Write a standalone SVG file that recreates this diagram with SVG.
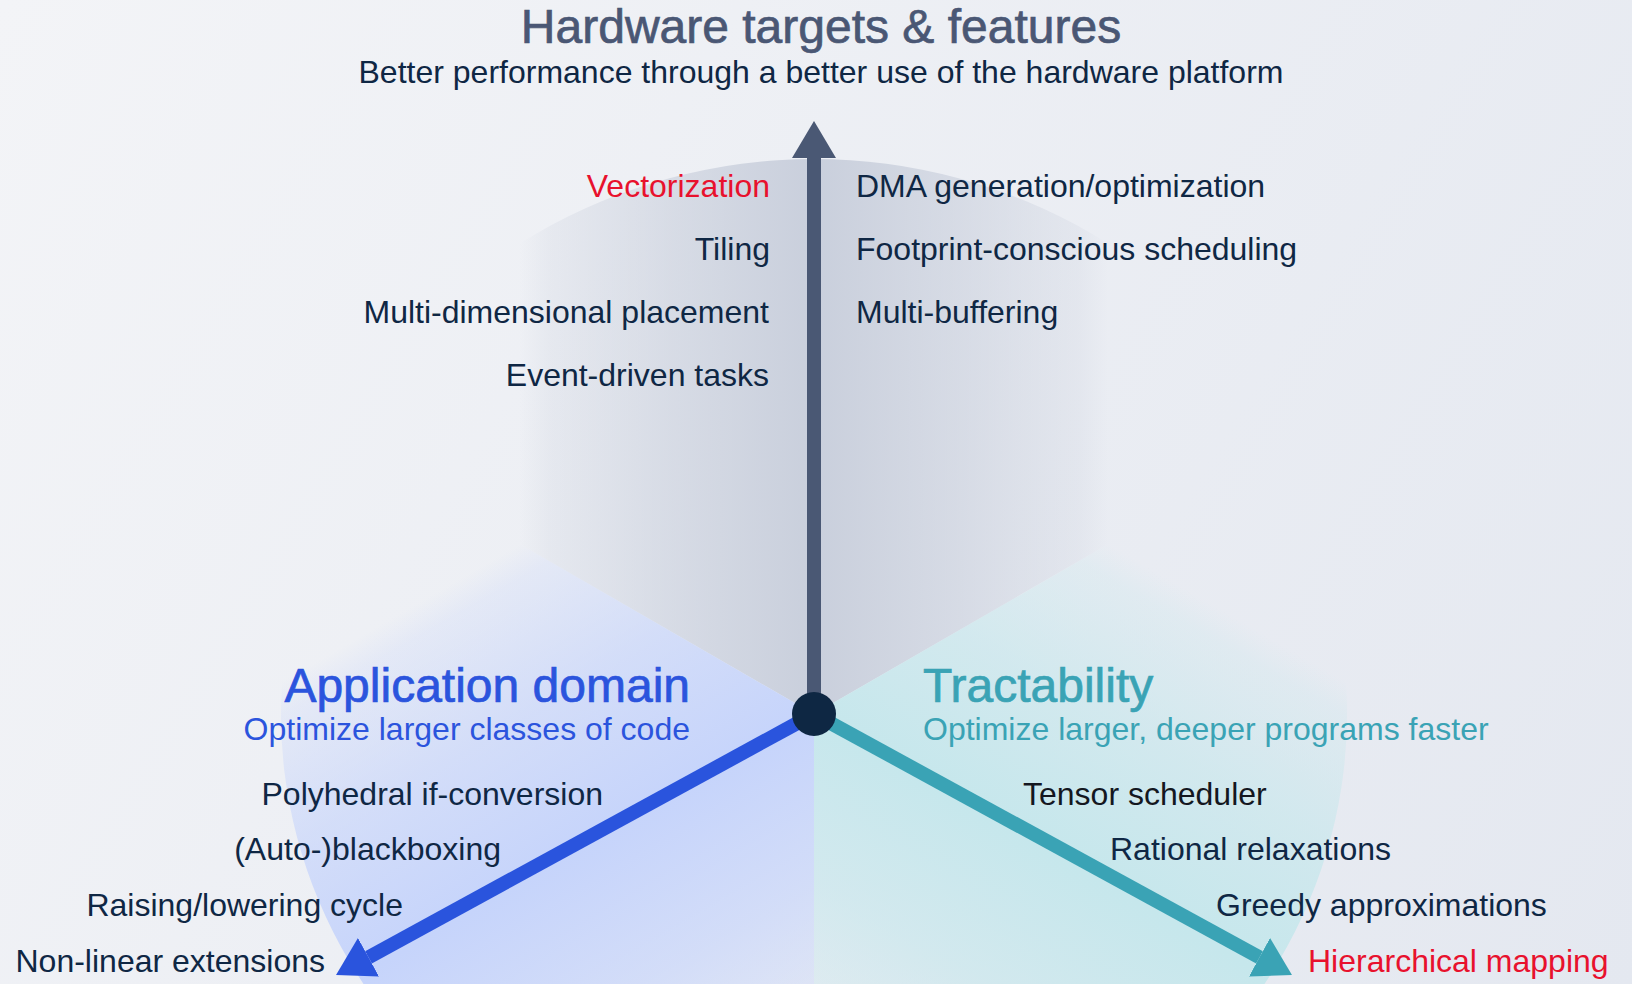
<svg xmlns="http://www.w3.org/2000/svg" width="1632" height="984" viewBox="0 0 1632 984">
  <defs>
    <linearGradient id="bg" x1="0" y1="0" x2="1632" y2="984" gradientUnits="userSpaceOnUse">
      <stop offset="0" stop-color="#f3f4f7"/>
      <stop offset="1" stop-color="#e4e8f0"/>
    </linearGradient>
    <linearGradient id="gTop" x1="520" y1="0" x2="1108" y2="0" gradientUnits="userSpaceOnUse">
      <stop offset="0" stop-color="#c9cfdc" stop-opacity="0"/>
      <stop offset="0.05" stop-color="#c9cfdc" stop-opacity="0.22"/>
      <stop offset="0.25" stop-color="#c9cfdc" stop-opacity="0.6"/>
      <stop offset="0.5" stop-color="#c9cfdc" stop-opacity="1"/>
      <stop offset="0.75" stop-color="#c9cfdc" stop-opacity="0.6"/>
      <stop offset="0.95" stop-color="#c9cfdc" stop-opacity="0.22"/>
      <stop offset="1" stop-color="#c9cfdc" stop-opacity="0"/>
    </linearGradient>
    <linearGradient id="gApp" x1="667" y1="459.4" x2="961" y2="968.6" gradientUnits="userSpaceOnUse">
      <stop offset="0" stop-color="#c6d4fb" stop-opacity="0"/>
      <stop offset="0.05" stop-color="#c6d4fb" stop-opacity="0.25"/>
      <stop offset="0.25" stop-color="#c6d4fb" stop-opacity="0.65"/>
      <stop offset="0.5" stop-color="#c6d4fb" stop-opacity="1"/>
      <stop offset="0.75" stop-color="#c6d4fb" stop-opacity="0.65"/>
      <stop offset="0.95" stop-color="#c6d4fb" stop-opacity="0.25"/>
      <stop offset="1" stop-color="#c6d4fb" stop-opacity="0"/>
    </linearGradient>
    <linearGradient id="gTra" x1="961" y1="459.4" x2="667" y2="968.6" gradientUnits="userSpaceOnUse">
      <stop offset="0" stop-color="#c6e7ec" stop-opacity="0"/>
      <stop offset="0.05" stop-color="#c6e7ec" stop-opacity="0.25"/>
      <stop offset="0.25" stop-color="#c6e7ec" stop-opacity="0.65"/>
      <stop offset="0.5" stop-color="#c6e7ec" stop-opacity="1"/>
      <stop offset="0.75" stop-color="#c6e7ec" stop-opacity="0.65"/>
      <stop offset="0.95" stop-color="#c6e7ec" stop-opacity="0.25"/>
      <stop offset="1" stop-color="#c6e7ec" stop-opacity="0"/>
    </linearGradient>
    <marker id="headHw" viewBox="0 0 37 44" refX="0" refY="22" markerWidth="37" markerHeight="44" markerUnits="userSpaceOnUse" orient="auto">
      <path d="M0,0 L37,22 L0,44 Z" fill="#4a5874"/>
    </marker>
    <marker id="headApp" viewBox="0 0 37 44" refX="0" refY="22" markerWidth="37" markerHeight="44" markerUnits="userSpaceOnUse" orient="auto">
      <path d="M0,0 L37,22 L0,44 Z" fill="#2a54dd"/>
    </marker>
    <marker id="headTra" viewBox="0 0 37 44" refX="0" refY="22" markerWidth="37" markerHeight="44" markerUnits="userSpaceOnUse" orient="auto">
      <path d="M0,0 L37,22 L0,44 Z" fill="#3aa3b5"/>
    </marker>
  </defs>
  <style>
    text { font-family: "Liberation Sans", Arial, sans-serif; }
    .item { font-size: 32px; fill: #0f2744; }
    .hot { fill: #e8112d; }
    .head { font-size: 48px; stroke-width: 0.7; }
    .sub { font-size: 32px; }
    .end { text-anchor: end; }
    .mid { text-anchor: middle; }
    .axis { fill: none; stroke-width: 14; }
  </style>

  <rect x="0" y="0" width="1632" height="984" fill="url(#bg)"/>

  <g id="sectors">
    <path d="M814,714 L333.4,436.5 A555,555 0 0 1 1294.6,436.5 Z" fill="url(#gTop)"/>
    <path d="M814,714 L358.8,451.2 A533,505 0 0 0 814,1219 Z" fill="url(#gApp)"/>
    <path d="M814,714 L814,1219 A533,505 0 0 0 1269.2,451.2 Z" fill="url(#gTra)"/>
  </g>

  <g id="connectors">
    <line class="axis" x1="814" y1="714" x2="814" y2="158" stroke="#4a5874" marker-end="url(#headHw)"/>
    <line class="axis" x1="814" y1="714" x2="368.5" y2="957.3" stroke="#2a54dd" marker-end="url(#headApp)"/>
    <line class="axis" x1="814" y1="714" x2="1259.5" y2="957.3" stroke="#3aa3b5" marker-end="url(#headTra)"/>
  </g>

  <g id="origin">
    <circle cx="814" cy="714" r="22" fill="#0e2743"/>
  </g>

  <g id="hardware">
    <text class="head mid" x="821" y="43" fill="#4a5774" stroke="#4a5774">Hardware targets &amp; features</text>
    <text class="sub mid" x="821" y="83" fill="#0f2744">Better performance through a better use of the hardware platform</text>
    <text class="item hot end" x="770" y="197">Vectorization</text>
    <text class="item end" x="770" y="260">Tiling</text>
    <text class="item end" x="769" y="323">Multi-dimensional placement</text>
    <text class="item end" x="769" y="386">Event-driven tasks</text>
    <text class="item" x="856" y="197">DMA generation/optimization</text>
    <text class="item" x="856" y="260">Footprint-conscious scheduling</text>
    <text class="item" x="856" y="323">Multi-buffering</text>
  </g>

  <g id="application">
    <text class="head end" x="690" y="702" fill="#2b54dd" stroke="#2b54dd">Application domain</text>
    <text class="sub end" x="690" y="740" fill="#2b54dd">Optimize larger classes of code</text>
    <text class="item end" x="603" y="805">Polyhedral if-conversion</text>
    <text class="item end" x="501" y="860">(Auto-)blackboxing</text>
    <text class="item end" x="403" y="916">Raising/lowering cycle</text>
    <text class="item end" x="325" y="972">Non-linear extensions</text>
  </g>

  <g id="tractability">
    <text class="head" x="923" y="702" fill="#3aa3b5" stroke="#3aa3b5">Tractability</text>
    <text class="sub" x="923" y="740" fill="#3aa3b5">Optimize larger, deeper programs faster</text>
    <text class="item" x="1023" y="805" style="fill:#14171f">Tensor scheduler</text>
    <text class="item" x="1110" y="860">Rational relaxations</text>
    <text class="item" x="1216" y="916">Greedy approximations</text>
    <text class="item hot" x="1308" y="972">Hierarchical mapping</text>
  </g>
</svg>
